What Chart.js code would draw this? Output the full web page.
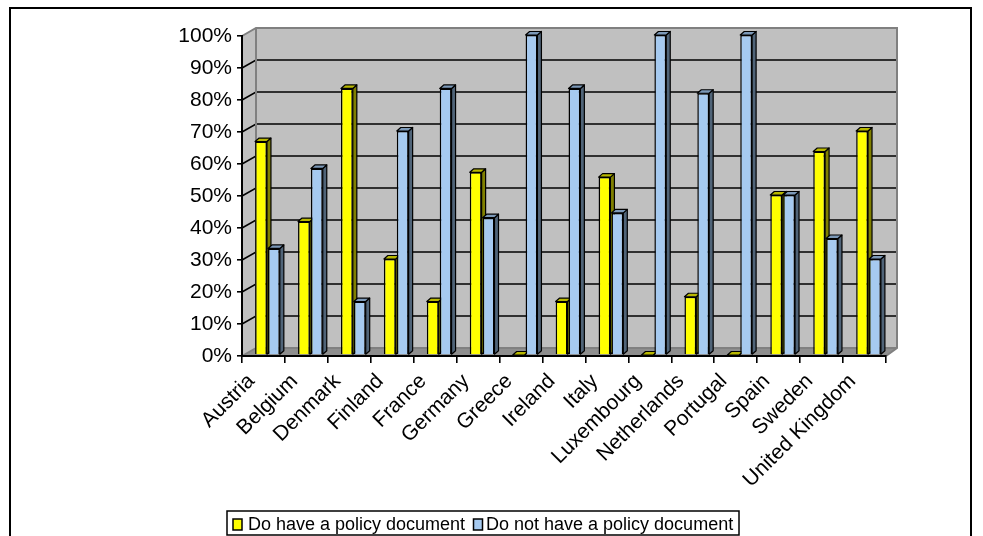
<!DOCTYPE html>
<html>
<head>
<meta charset="utf-8">
<style>
  html, body { margin: 0; padding: 0; background: #ffffff; }
  #wrap { position: relative; width: 983px; height: 536px; overflow: hidden; }
  canvas { display: block; }
</style>
<script src="https://cdn.jsdelivr.net/npm/chart.js@4/dist/chart.umd.min.js"></script>
</head>
<body>
<div id="wrap"><canvas id="chart" width="983" height="536"></canvas></div>
<script>
// Share of organisations per country with / without a policy document (%)
const countries = ['Austria', 'Belgium', 'Denmark', 'Finland', 'France', 'Germany', 'Greece',
  'Ireland', 'Italy', 'Luxembourg', 'Netherlands', 'Portugal', 'Spain', 'Sweden', 'United Kingdom'];
const haveDocument = [66.7, 41.7, 83.3, 30.0, 16.7, 57.1, 0, 16.7, 55.6, 0, 18.2, 0, 50.0, 63.6, 70.0];
const noDocument   = [33.3, 58.3, 16.7, 70.0, 83.3, 42.9, 100, 83.3, 44.4, 100, 81.8, 100, 50.0, 36.4, 30.0];
const seriesNames  = ['Do have a policy document', 'Do not have a policy document'];
const yTickValues  = [0, 10, 20, 30, 40, 50, 60, 70, 80, 90, 100];

const FONT = '"Liberation Sans", Arial, sans-serif';

// colours for the three visible faces of each column
const faceColours = [
  { front: '#FFFF00', top: '#B8B800', side: '#808000' },
  { front: '#A6CAF0', top: '#7C99B8', side: '#506478' }
];

// depth of the room (back wall offset) and of each column
const WALL_DX_LEFT = 14, WALL_DX_RIGHT = 11, WALL_DY = -8;
const BAR_DX = 4, BAR_DY = -3.5;
const BAR_SHIFT_X = 4, BAR_SHIFT_Y = -1;

function poly(ctx, pts, fill, stroke, lw) {
  ctx.beginPath();
  ctx.moveTo(pts[0][0], pts[0][1]);
  for (let i = 1; i < pts.length; i++) ctx.lineTo(pts[i][0], pts[i][1]);
  ctx.closePath();
  if (fill) { ctx.fillStyle = fill; ctx.fill(); }
  if (stroke) { ctx.strokeStyle = stroke; ctx.lineWidth = lw || 1; ctx.stroke(); }
}

// walls, floor and back-wall gridlines
const roomPlugin = {
  id: 'room',
  beforeDraw(chart) {
    const ctx = chart.ctx;
    const a = chart.chartArea;
    const y = chart.scales.y;
    const L = a.left, R = a.right, T = a.top, B = a.bottom;
    const bL = L + WALL_DX_LEFT, bR = R + WALL_DX_RIGHT;
    ctx.save();
    // back wall
    poly(ctx, [[bL, T + WALL_DY], [bR, T + WALL_DY], [bR, B + WALL_DY], [bL, B + WALL_DY]], '#C0C0C0');
    // left side wall
    poly(ctx, [[L, T], [bL, T + WALL_DY], [bL, B + WALL_DY], [L, B]], '#C0C0C0');
    // floor
    poly(ctx, [[L, B], [bL, B + WALL_DY], [bR, B + WALL_DY], [R, B]], '#8E8E8E');
    // gridlines: diagonal on the side wall, horizontal on the back wall
    ctx.strokeStyle = '#000000';
    ctx.lineWidth = 1.6;
    yTickValues.forEach(v => {
      if (v === 0 || v === 100) return;
      const py = y.getPixelForValue(v);
      ctx.beginPath();
      ctx.moveTo(L, py);
      ctx.lineTo(bL, py + WALL_DY);
      ctx.lineTo(bR, py + WALL_DY);
      ctx.stroke();
    });
    // wall edges
    ctx.strokeStyle = '#808080';
    ctx.lineWidth = 2;
    ctx.beginPath();
    ctx.moveTo(L, T);
    ctx.lineTo(bL, T + WALL_DY);
    ctx.lineTo(bR, T + WALL_DY);
    ctx.lineTo(bR, B + WALL_DY);
    ctx.lineTo(R, B);
    ctx.moveTo(bL, T + WALL_DY);
    ctx.lineTo(bL, B + WALL_DY);
    ctx.lineTo(bR, B + WALL_DY);
    ctx.moveTo(L, B);
    ctx.lineTo(bL, B + WALL_DY);
    ctx.stroke();
    ctx.restore();
  },
  // top and side faces of the columns, drawn behind their front faces
  beforeDatasetsDraw(chart) {
    const ctx = chart.ctx;
    ctx.save();
    ctx.translate(BAR_SHIFT_X, BAR_SHIFT_Y);
    const metas = chart.data.datasets.map((d, i) => chart.getDatasetMeta(i));
    for (let c = 0; c < countries.length; c++) {
      metas.forEach((meta, di) => {
        const el = meta.data[c];
        if (!el) return;
        const { x, y, base, width } = el.getProps(['x', 'y', 'base', 'width'], true);
        const l = x - width / 2, r = x + width / 2;
        const col = faceColours[di];
        ctx.lineJoin = 'round';
        poly(ctx, [[r, y], [r + BAR_DX, y + BAR_DY], [r + BAR_DX, base + BAR_DY], [r, base]], col.side, '#000', 1.2);
        poly(ctx, [[l, y], [l + BAR_DX, y + BAR_DY], [r + BAR_DX, y + BAR_DY], [r, y]], col.top, '#000', 1.2);
      });
    }
  },
  afterDatasetsDraw(chart) {
    chart.ctx.restore();
  },
  // outer frame and legend box
  afterDraw(chart) {
    const ctx = chart.ctx;
    ctx.save();
    ctx.strokeStyle = '#000';
    ctx.lineWidth = 2;
    ctx.strokeRect(10, 8, 961, 560);

    const boxL = 227, boxT = 511, boxR = 739, boxB = 535;
    ctx.lineWidth = 1.5;
    ctx.strokeRect(boxL, boxT, boxR - boxL, boxB - boxT);
    ctx.font = '18px ' + FONT;
    ctx.textBaseline = 'middle';
    ctx.textAlign = 'left';
    const cy = 524;
    const items = [
      { sx: 233, tx: 248 },
      { sx: 473.5, tx: 486 }
    ];
    chart.data.datasets.forEach((ds, i) => {
      const it = items[i];
      ctx.fillStyle = ds.backgroundColor;
      ctx.fillRect(it.sx, cy - 5, 9, 11);
      ctx.lineWidth = 1.5;
      ctx.strokeStyle = '#000';
      ctx.strokeRect(it.sx, cy - 5, 9, 11);
      ctx.fillStyle = '#000';
      ctx.fillText(ds.label, it.tx, cy + 1);
    });
    ctx.restore();
  }
};

new Chart(document.getElementById('chart'), {
  type: 'bar',
  data: {
    labels: countries,
    datasets: [
      { label: seriesNames[0], data: haveDocument, backgroundColor: faceColours[0].front,
        borderColor: '#000', borderWidth: 1.5, clip: false },
      { label: seriesNames[1], data: noDocument, backgroundColor: faceColours[1].front,
        borderColor: '#000', borderWidth: 1.5, clip: false }
    ]
  },
  options: {
    responsive: false,
    devicePixelRatio: 1,
    animation: false,
    layout: { padding: { top: 36, right: 97, bottom: 0, left: 0 } },
    datasets: { bar: { categoryPercentage: 0.6, barPercentage: 0.92 } },
    plugins: { legend: { display: false }, tooltip: { enabled: false } },
    scales: {
      x: {
        afterFit(s) { s.height = 180; },
        grid: { offset: true, drawOnChartArea: false, drawTicks: true, tickLength: 7,
                color: '#000', lineWidth: 1.6 },
        border: { display: true, color: '#000', width: 2 },
        ticks: { autoSkip: false, minRotation: 45, maxRotation: 45, color: '#000', padding: 6,
                 labelOffset: -12, font: { family: FONT, size: 21 } }
      },
      y: {
        min: 0, max: 100,
        afterFit(s) { s.width = 242; },
        afterBuildTicks(s) { s.ticks = yTickValues.map(v => ({ value: v })); },
        grid: { drawOnChartArea: false, drawTicks: true, tickLength: 5, color: '#000', lineWidth: 1.6 },
        border: { display: true, color: '#000', width: 2 },
        ticks: { color: '#000', padding: 5, font: { family: FONT, size: 21 },
                 callback: v => v + '%' }
      }
    }
  },
  plugins: [roomPlugin]
});
</script>
</body>
</html>
